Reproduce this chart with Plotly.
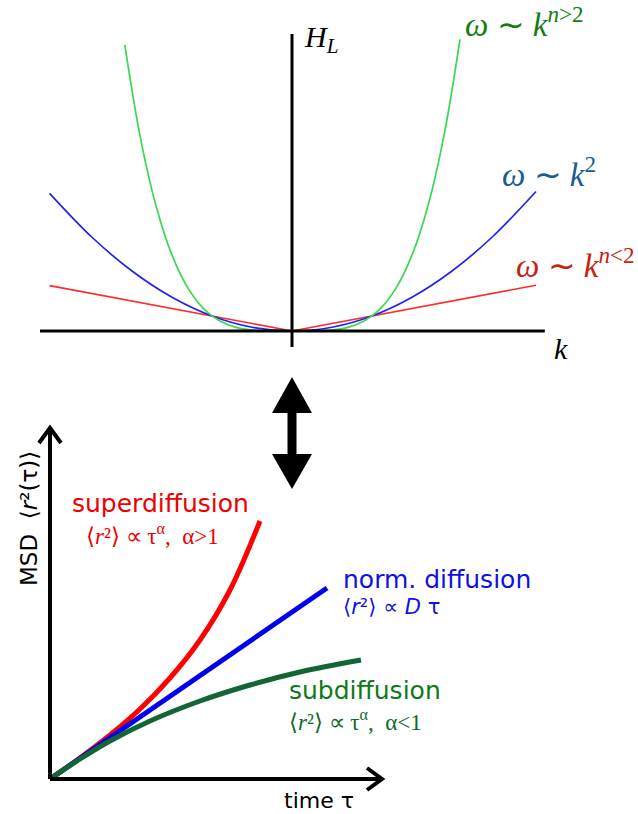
import plotly.graph_objects as go

W, H = 638, 814

# ---- dispersion relations H_L(k) (k in units, height in units) ----
k_lin = [-3.03, 0.0, 3.05]
h_lin = [3.03, 0.0, 3.05]

k_sq = [-3.03, -2.5, -2.0, -1.5, -1.0, -0.5, 0.0, 0.5, 1.0, 1.5, 2.0, 2.5, 3.05]
h_sq = [9.18, 6.25, 4.0, 2.25, 1.0, 0.25, 0.0, 0.25, 1.0, 2.25, 4.0, 6.25, 9.3]

k_quart = [-2.09, -1.9, -1.7, -1.5, -1.3, -1.1, -0.9, -0.7, -0.5, -0.3, 0.0,
           0.3, 0.5, 0.7, 0.9, 1.1, 1.3, 1.5, 1.7, 1.9, 2.1]
h_quart = [19.08, 13.03, 8.35, 5.06, 2.86, 1.46, 0.66, 0.24, 0.06, 0.01, 0.0,
           0.01, 0.06, 0.24, 0.66, 1.46, 2.86, 5.06, 8.35, 13.03, 19.45]

# ---- mean squared displacement vs. lag time ----
tau_super = [0.0, 0.3, 0.6, 0.9, 1.2, 1.5, 1.8, 2.1]
msd_super = [0.0, 0.21, 0.44, 0.70, 1.01, 1.39, 1.89, 2.58]

tau_norm = [0.0, 2.77]
msd_norm = [0.0, 1.91]

tau_sub = [0.0, 0.3, 0.6, 1.0, 1.5, 2.0, 2.5, 3.11]
msd_sub = [0.0, 0.20, 0.38, 0.58, 0.78, 0.94, 1.07, 1.19]


def px(x):
    return x / W


def py(y):
    return 1 - y / H


fig = go.Figure()

top_axes = dict(xaxis="x", yaxis="y")
bot_axes = dict(xaxis="x2", yaxis="y2")

fig.add_trace(go.Scatter(x=k_lin, y=h_lin, mode="lines",
                         line=dict(color="#ff2a2a", width=1.7), **top_axes))
fig.add_trace(go.Scatter(x=k_sq, y=h_sq, mode="lines", line_shape="spline",
                         line=dict(color="#2222ee", width=1.7), **top_axes))
fig.add_trace(go.Scatter(x=k_quart, y=h_quart, mode="lines", line_shape="spline",
                         line=dict(color="#3ad84f", width=1.7), **top_axes))

fig.add_trace(go.Scatter(x=tau_super, y=msd_super, mode="lines", line_shape="spline",
                         line=dict(color="#ff0000", width=5), **bot_axes))
fig.add_trace(go.Scatter(x=tau_norm, y=msd_norm, mode="lines",
                         line=dict(color="#0000ee", width=5), **bot_axes))
fig.add_trace(go.Scatter(x=tau_sub, y=msd_sub, mode="lines", line_shape="spline",
                         line=dict(color="#116633", width=5), **bot_axes))

shapes = []
# k and H_L axes
shapes.append(dict(type="line", xref="x", yref="y", x0=-3.15, x1=3.16, y0=0, y1=0,
                   line=dict(color="black", width=3)))
shapes.append(dict(type="line", xref="x", yref="y", x0=0, x1=0, y0=-1.07, y1=19.8,
                   line=dict(color="black", width=3)))
# time and MSD axes with open arrow heads
shapes.append(dict(type="line", xref="x2", yref="y2", x0=0, x1=0, y0=0, y1=3.5,
                   line=dict(color="black", width=4)))
shapes.append(dict(type="path", xref="x2", yref="y2",
                   path="M -0.11,3.36 L 0,3.51 L 0.11,3.36",
                   line=dict(color="black", width=4)))
shapes.append(dict(type="line", xref="x2", yref="y2", x0=0, x1=3.32, y0=0, y1=0,
                   line=dict(color="black", width=4)))
shapes.append(dict(type="path", xref="x2", yref="y2",
                   path="M 3.17,0.11 L 3.32,0 L 3.17,-0.11",
                   line=dict(color="black", width=4)))

# double-headed arrow between the panels
pts = [(292, 377), (312, 413), (296.5, 413), (296.5, 454), (312, 454), (292, 489),
       (272, 454), (287.5, 454), (287.5, 413), (272, 413)]
path = "M " + " L ".join(f"{px(a):.5f},{py(b):.5f}" for a, b in pts) + " Z"
shapes.append(dict(type="path", xref="paper", yref="paper", path=path,
                   fillcolor="black", line=dict(color="black", width=0)))

serif = "Liberation Serif"
sans = "DejaVu Sans"


def label(text, x, y, size, color, family, xanchor="left", angle=0):
    return dict(text=text, x=px(x), y=py(y), xref="paper", yref="paper",
                xanchor=xanchor, yanchor="middle", showarrow=False,
                textangle=angle, font=dict(size=size, color=color, family=family))


annotations = [
    label("<i>H</i><sub><i>L</i></sub>", 302, 39, 30, "black", serif),
    label("<i>ω</i> ∼ <i>k</i><sup><i>n</i>>2</sup>", 463, 22, 33, "#137c13", serif),
    label("<i>ω</i> ∼ <i>k</i><sup>2</sup>", 500, 172, 33, "#1b5b8e", serif),
    label("<i>ω</i> ∼ <i>k</i><sup><i>n</i>&lt;2</sup>", 514, 263, 33, "#c8210e", serif),
    label("<i>k</i>", 552, 348, 30, "black", serif),
    label("MSD  ⟨<i>r</i>²(τ)⟩", 29, 519, 23, "black", sans, xanchor="center", angle=-90),
    label("superdiffusion", 70, 503, 25, "#ee0000", sans),
    label("⟨<i>r</i>²⟩ ∝ τ<sup>α</sup>,  α>1", 84, 534, 23, "#ee0000", serif),
    label("norm. diffusion", 341, 579, 25, "#1010e0", sans),
    label("⟨<i>r</i>²⟩ ∝ <i>D</i> τ", 341, 607, 21, "#1010e0", sans),
    label("subdiffusion", 287, 690, 25, "#0c7a1a", sans),
    label("⟨<i>r</i>²⟩ ∝ τ<sup>α</sup>,  α&lt;1", 287, 720, 23, "#0c6a2a", serif),
    label("time τ", 282, 800, 22, "black", sans),
]

hidden = dict(visible=False, showgrid=False, zeroline=False, fixedrange=True)

fig.update_layout(
    width=W, height=H,
    margin=dict(l=0, r=0, t=0, b=0),
    paper_bgcolor="white", plot_bgcolor="white",
    showlegend=False,
    xaxis=dict(domain=[0, 1], range=[-292 / 80, 346 / 80], anchor="y", **hidden),
    yaxis=dict(domain=[1 - 370 / H, 1], range=[-39 / 15, 331 / 15], anchor="x", **hidden),
    xaxis2=dict(domain=[0, 1], range=[-0.5, 5.88], anchor="y2", **hidden),
    yaxis2=dict(domain=[0, 1 - 370 / H], range=[-0.35, 4.09], anchor="x2", **hidden),
    shapes=shapes,
    annotations=annotations,
)

fig.write_html("out.html")
